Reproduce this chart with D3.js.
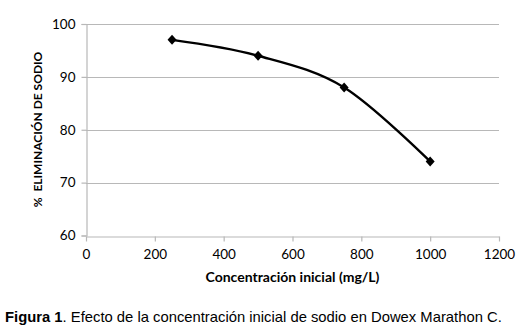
<!DOCTYPE html>
<html>
<head>
<meta charset="utf-8">
<script src="https://cdn.jsdelivr.net/npm/d3@7"></script>
<style>
  html, body { margin: 0; padding: 0; background: #fff; }
  svg { display: block; }
</style>
</head>
<body>
<svg id="chart" width="529" height="336"></svg>
<script>
// Initial sodium concentration (mg/L) and removal percentage
const concentration = [250, 500, 750, 1000];
const removal = [97, 94, 88, 74];
const xTicks = [0, 200, 400, 600, 800, 1000, 1200];
const yTicks = [60, 70, 80, 90, 100];

const svg = d3.select("#chart");

const x = d3.scaleLinear().domain([0, 1200]).range([86, 499]);
const y = d3.scaleLinear().domain([60, 100]).range([235.5, 24]);

const axisFont = "Lato, 'Open Sans', sans-serif";
const gridColor = "#b8b8b8";

// horizontal gridlines
svg.append("g")
  .selectAll("line")
  .data(yTicks.filter(d => d !== 60))
  .join("line")
  .attr("x1", x(0)).attr("x2", x(1200))
  .attr("y1", d => Math.round(y(d)) + 0.5).attr("y2", d => Math.round(y(d)) + 0.5)
  .attr("stroke", gridColor).attr("stroke-width", 1.2);

// y axis
const yAxis = svg.append("g")
  .attr("transform", `translate(${x(0) + 0.5},0)`)
  .call(d3.axisLeft(y).tickValues(yTicks).tickFormat(d3.format("d")).tickSize(5).tickPadding(6));
yAxis.select(".domain").attr("stroke", gridColor).attr("stroke-width", 1.2);
yAxis.selectAll(".tick line").attr("stroke", gridColor).attr("stroke-width", 1.2);
yAxis.selectAll("text").attr("font-family", axisFont).attr("font-size", 13.5).attr("fill", "#000");

// x axis
const xAxis = svg.append("g")
  .attr("transform", `translate(0,${Math.round(y(60)) + 0.5})`)
  .call(d3.axisBottom(x).tickValues(xTicks).tickFormat(d3.format("d")).tickSize(5).tickPadding(8).tickSizeOuter(0));
xAxis.select(".domain").attr("stroke", gridColor).attr("stroke-width", 1.2);
xAxis.selectAll(".tick line").attr("stroke", gridColor).attr("stroke-width", 1.2);
xAxis.selectAll("text").attr("font-family", axisFont).attr("font-size", 13.5).attr("fill", "#000");

// smoothed data line
const pts = concentration.map((c, i) => [c, removal[i]]);
svg.append("path")
  .datum(pts)
  .attr("fill", "none")
  .attr("stroke", "#000")
  .attr("stroke-width", 2.4)
  .attr("d", d3.line().x(d => x(d[0])).y(d => y(d[1])).curve(d3.curveCatmullRom.alpha(0)));

// diamond markers
svg.append("g")
  .selectAll("path")
  .data(pts)
  .join("path")
  .attr("transform", d => `translate(${x(d[0])},${y(d[1])})`)
  .attr("d", "M0,-5L4.5,0L0,5L-4.5,0Z")
  .attr("fill", "#000");

// axis titles
svg.append("text")
  .attr("x", (x(0) + x(1200)) / 2).attr("y", 282)
  .attr("text-anchor", "middle")
  .attr("font-family", axisFont).attr("font-weight", "bold").attr("font-size", 14)
  .text("Concentración inicial (mg/L)");

svg.append("text")
  .attr("transform", `translate(42,${(48 + 211) / 2}) rotate(-90)`)
  .attr("text-anchor", "middle")
  .attr("font-family", axisFont).attr("font-weight", "bold").attr("font-size", 12)
  .text("%\u00A0 ELIMINACIÓN DE SODIO");

// caption
const cap = svg.append("text")
  .attr("x", 5).attr("y", 322)
  .attr("font-family", "'Liberation Sans', Arial, sans-serif").attr("font-size", 14.8)
  .attr("fill", "#000");
cap.append("tspan").attr("font-weight", "bold").text("Figura 1");
cap.append("tspan").text(". Efecto de la concentración inicial de sodio en Dowex Marathon C.");
</script>
</body>
</html>
